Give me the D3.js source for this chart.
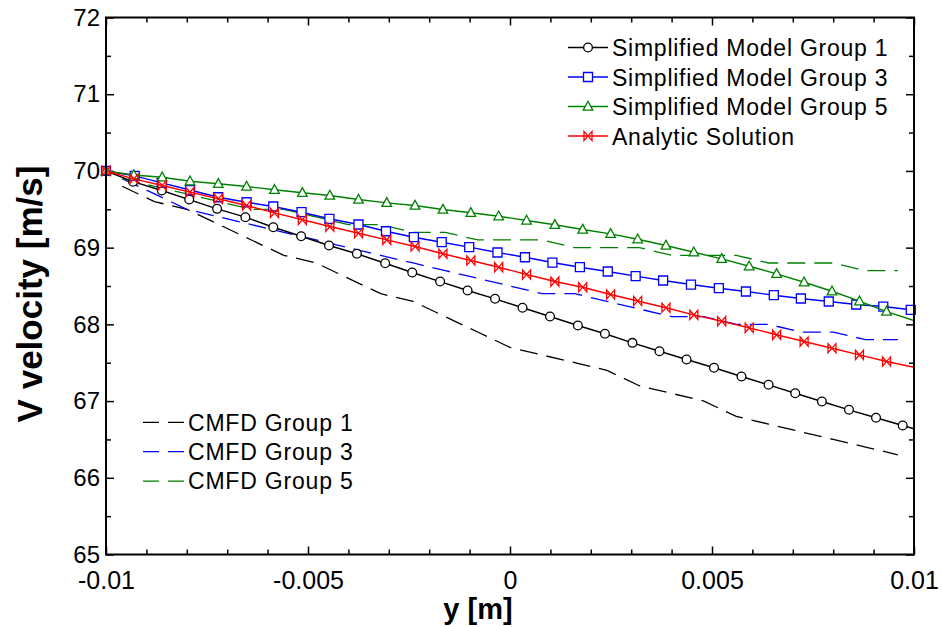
<!DOCTYPE html>
<html><head><meta charset="utf-8">
<script src="https://cdn.jsdelivr.net/npm/d3@7/dist/d3.min.js"></script>
<style>
body{margin:0;background:#fff}
svg{display:block}
text{font-family:"Liberation Sans",Arial,Helvetica,sans-serif;fill:#000}
</style>
</head><body>
<svg id="chart" width="942" height="627"></svg>
<script>
// ---------- data ----------
const xTickMajor = [-0.01, -0.005, 0, 0.005, 0.01];
const xTickLabels = ["-0.01", "-0.005", "0", "0.005", "0.01"];
const xTickMinor = [-0.009,-0.008,-0.007,-0.006,-0.004,-0.003,-0.002,-0.001,0.001,0.002,0.003,0.004,0.006,0.007,0.008,0.009];
const yTickMajor = [65, 66, 67, 68, 69, 70, 71, 72];
const yTickLabels = ["65", "66", "67", "68", "69", "70", "71", "72"];
const yTickMinor = [65.5, 66.5, 67.5, 68.5, 69.5, 70.5, 71.5];

// Simplified Model Group 1 (circles)
const xGroup1 = [-0.01,-0.00933,-0.00862,-0.00794,-0.00725,-0.00655,-0.00586,-0.00517,-0.00448,-0.00379,-0.00309,-0.00242,-0.00173,-0.00105,-0.00037,0.00031,0.00099,0.00168,0.00235,0.00303,0.00370,0.00437,0.00505,0.00573,0.00640,0.00706,0.00772,0.00839,0.00906,0.00972,0.01];
const vGroup1 = [70.0,69.86,69.745,69.627,69.506,69.397,69.266,69.149,69.028,68.920,68.797,68.676,68.558,68.441,68.333,68.216,68.102,67.985,67.877,67.759,67.650,67.542,67.434,67.320,67.212,67.102,66.994,66.886,66.782,66.681,66.638];

// Simplified Model Group 3 (squares)
const xGroup3 = [-0.01,-0.00929,-0.00862,-0.00792,-0.00722,-0.00652,-0.00586,-0.00516,-0.00447,-0.00375,-0.00307,-0.00238,-0.00169,-0.00101,-0.00031,0.00037,0.00105,0.00173,0.00242,0.00311,0.00379,0.00448,0.00517,0.00584,0.00653,0.00720,0.00789,0.00857,0.00924,0.00992,0.01];
const vGroup3 = [70.0,69.935,69.845,69.751,69.657,69.592,69.536,69.462,69.376,69.302,69.214,69.136,69.071,69.006,68.937,68.875,68.806,68.745,68.689,68.628,68.572,68.519,68.471,68.428,68.380,68.337,68.298,68.259,68.232,68.190,68.18];

// Simplified Model Group 5 (triangles)
const xGroup5 = [-0.01,-0.00931,-0.00861,-0.00792,-0.00722,-0.00652,-0.00583,-0.00514,-0.00446,-0.00375,-0.00305,-0.00235,-0.00166,-0.00097,-0.00028,0.00041,0.00111,0.00180,0.00249,0.00316,0.00386,0.00455,0.00524,0.00592,0.00660,0.00728,0.00797,0.00865,0.00932,0.01];
const vGroup5 = [70.0,69.947,69.918,69.866,69.832,69.797,69.754,69.715,69.680,69.627,69.584,69.549,69.497,69.454,69.410,69.354,69.298,69.236,69.180,69.110,69.028,68.940,68.854,68.758,68.659,68.549,68.432,68.302,68.167,68.050];

// Analytic Solution (bowties)
const xAnalytic = [-0.01,-0.00931,-0.00861,-0.00792,-0.00722,-0.00652,-0.00583,-0.00514,-0.00446,-0.00375,-0.00305,-0.00235,-0.00166,-0.00097,-0.00028,0.00041,0.00111,0.00180,0.00249,0.00316,0.00386,0.00455,0.00524,0.00592,0.00660,0.00728,0.00797,0.00865,0.00932,0.01];
const vAnalytic = [70.0,69.897,69.810,69.723,69.637,69.549,69.454,69.363,69.275,69.188,69.102,69.015,68.920,68.832,68.745,68.650,68.558,68.484,68.389,68.304,68.216,68.124,68.041,67.955,67.864,67.776,67.689,67.603,67.516,67.441];

// CMFD (cell centres)
const xCMFD = [-0.0096,-0.0088,-0.0080,-0.0072,-0.0064,-0.0056,-0.0048,-0.0040,-0.0032,-0.0024,-0.0016,-0.0008,0,0.0008,0.0016,0.0024,0.0032,0.0040,0.0048,0.0056,0.0064,0.0072,0.0080,0.0088,0.0096];
const vCMFD1 = [69.8,69.6,69.5,69.3,69.1,68.9,68.8,68.6,68.4,68.3,68.1,67.9,67.7,67.6,67.5,67.4,67.2,67.1,67.0,66.8,66.7,66.6,66.5,66.4,66.3];
const vCMFD3 = [69.9,69.7,69.5,69.4,69.3,69.2,69.1,69.0,68.9,68.8,68.7,68.6,68.5,68.4,68.4,68.3,68.2,68.1,68.1,68.0,68.0,67.9,67.9,67.8,67.8];
const vCMFD5 = [69.9,69.8,69.7,69.6,69.5,69.5,69.4,69.3,69.3,69.2,69.2,69.1,69.1,69.1,69.0,69.0,69.0,68.9,68.9,68.9,68.8,68.8,68.8,68.7,68.7];

const legendTop = ["Simplified Model Group 1","Simplified Model Group 3","Simplified Model Group 5","Analytic Solution"];
const legendBottom = ["CMFD Group 1","CMFD Group 3","CMFD Group 5"];

// ---------- layout ----------
const L = 106, R = 914, T = 17.5, B = 554.5;
const svg = d3.select("#chart");
const x = d3.scaleLinear().domain([-0.01, 0.01]).range([L, R]);
const y = d3.scaleLinear().domain([65, 72]).range([B, T]);

const GREEN = "#008000", BLUE = "#0000ff", RED = "#ff0000";

svg.append("defs").append("clipPath").attr("id","plotclip")
  .append("rect").attr("x",L).attr("y",T).attr("width",R-L).attr("height",B-T);

// ---------- axes ----------
function styleAxis(g){ g.select(".domain").remove(); g.selectAll(".tick line").attr("stroke","#000").attr("stroke-width",1.5); }
const fmtX = d => xTickLabels[xTickMajor.indexOf(d)];
const fmtY = d => yTickLabels[yTickMajor.indexOf(d)];

const gxB = svg.append("g").attr("transform",`translate(0,${B})`)
  .call(d3.axisBottom(x).tickValues(xTickMajor).tickSize(-8).tickPadding(17).tickFormat(fmtX)).call(styleAxis);
gxB.selectAll("text").attr("font-size",25).attr("font-family","'Liberation Sans',Arial,sans-serif").attr("fill","#000");
svg.append("g").attr("transform",`translate(0,${B})`)
  .call(d3.axisBottom(x).tickValues(xTickMinor).tickSize(-5).tickFormat("")).call(styleAxis);
svg.append("g").attr("transform",`translate(0,${T})`)
  .call(d3.axisTop(x).tickValues(xTickMajor).tickSize(-8).tickFormat("")).call(styleAxis);
svg.append("g").attr("transform",`translate(0,${T})`)
  .call(d3.axisTop(x).tickValues(xTickMinor).tickSize(-5).tickFormat("")).call(styleAxis);

const gyL = svg.append("g").attr("transform",`translate(${L},0)`)
  .call(d3.axisLeft(y).tickValues(yTickMajor).tickSize(-8).tickPadding(6).tickFormat(fmtY)).call(styleAxis);
gyL.selectAll("text").attr("font-size",24).attr("font-family","'Liberation Sans',Arial,sans-serif").attr("fill","#000");
svg.append("g").attr("transform",`translate(${L},0)`)
  .call(d3.axisLeft(y).tickValues(yTickMinor).tickSize(-5).tickFormat("")).call(styleAxis);
svg.append("g").attr("transform",`translate(${R},0)`)
  .call(d3.axisRight(y).tickValues(yTickMajor).tickSize(-8).tickFormat("")).call(styleAxis);
svg.append("g").attr("transform",`translate(${R},0)`)
  .call(d3.axisRight(y).tickValues(yTickMinor).tickSize(-5).tickFormat("")).call(styleAxis);

// axis titles
svg.append("text").attr("x",478).attr("y",619).attr("text-anchor","middle")
  .attr("font-size",29).attr("font-weight","bold").text("y [m]");
svg.append("text").attr("transform","translate(42,294) rotate(-90)").attr("text-anchor","middle")
  .attr("font-size",35).attr("font-weight","bold").text("V velocity [m/s]");

// ---------- markers ----------
const markerPath = {
  circle: d3.symbol(d3.symbolCircle, 60)(),
  square: "M-4.5,-4.5H4.5V4.5H-4.5Z",
  triangle: "M0,-5.2L4.8,3.6L-4.8,3.6Z",
  bowtie: "M-4,-4.6L4,4.6L4,-4.6L-4,4.6Z"
};

const plot = svg.append("g");
const lineGen = d3.line().x(d => x(d[0])).y(d => y(d[1]));

function dashed(xs, vs, color){
  plot.append("path").datum(xs.map((v,i)=>[v, vs[i]]))
    .attr("clip-path","url(#plotclip)")
    .attr("d", lineGen).attr("fill","none").attr("stroke",color)
    .attr("stroke-width",1.3).attr("stroke-dasharray","18,9");
}
function marked(xs, vs, color, shape, fill){
  const pts = xs.map((v,i)=>[v, vs[i]]);
  plot.append("path").datum(pts).attr("clip-path","url(#plotclip)")
    .attr("d", lineGen).attr("fill","none").attr("stroke",color).attr("stroke-width",1.4);
  plot.append("g").selectAll("path").data(pts.filter(p => p[0] < 0.01)).join("path")
    .attr("transform", p => `translate(${x(p[0])},${y(p[1])})`)
    .attr("d", markerPath[shape]).attr("fill", fill).attr("stroke", color).attr("stroke-width",1.3);
}

dashed(xCMFD, vCMFD1, "#000");
dashed(xCMFD, vCMFD3, BLUE);
dashed(xCMFD, vCMFD5, GREEN);
marked(xGroup1, vGroup1, "#000", "circle", "#fff");
marked(xGroup3, vGroup3, BLUE, "square", "#fff");
marked(xGroup5, vGroup5, GREEN, "triangle", "#fff");
marked(xAnalytic, vAnalytic, RED, "bowtie", "none");

// frame
svg.append("rect").attr("x",L).attr("y",T).attr("width",R-L).attr("height",B-T)
  .attr("fill","none").attr("stroke","#000").attr("stroke-width",2);

// ---------- legends ----------
const topColors = ["#000", BLUE, GREEN, RED];
const topShapes = ["circle","square","triangle","bowtie"];
const topFills = ["#fff","#fff","#fff","none"];
const lgTop = svg.append("g");
legendTop.forEach((name,i)=>{
  const cy = 47.5 + i*29.5;
  lgTop.append("line").attr("x1",568).attr("x2",608).attr("y1",cy).attr("y2",cy)
    .attr("stroke",topColors[i]).attr("stroke-width",1.4);
  lgTop.append("path").attr("transform",`translate(588,${cy})`).attr("d",markerPath[topShapes[i]])
    .attr("fill",topFills[i]).attr("stroke",topColors[i]).attr("stroke-width",1.3);
  lgTop.append("text").attr("x",612).attr("y",cy+8.5).attr("font-size",23)
    .attr("letter-spacing",0.75).text(name);
});
const botColors = ["#000", BLUE, GREEN];
const lgBot = svg.append("g");
legendBottom.forEach((name,i)=>{
  const cy = 422.3 + i*29.4;
  lgBot.append("line").attr("x1",143).attr("x2",185).attr("y1",cy).attr("y2",cy)
    .attr("stroke",botColors[i]).attr("stroke-width",1.3).attr("stroke-dasharray","16,9");
  lgBot.append("text").attr("x",188).attr("y",cy+8.3).attr("font-size",23)
    .attr("letter-spacing",0.8).text(name);
});
</script>
</body></html>
